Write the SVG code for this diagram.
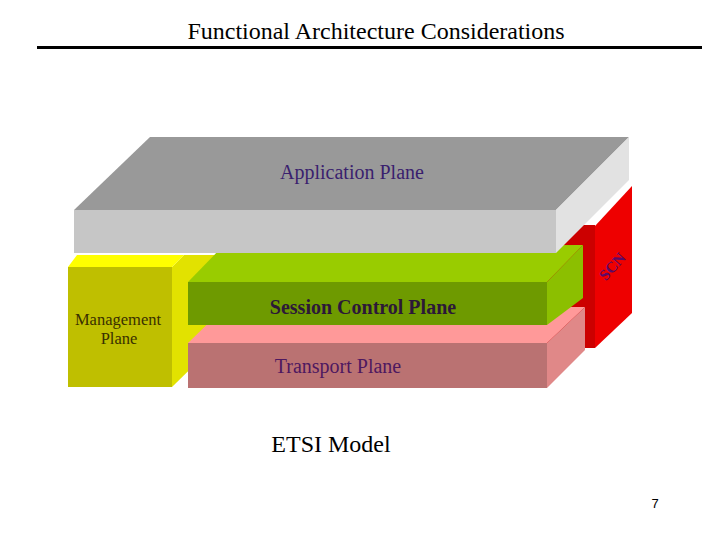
<svg xmlns="http://www.w3.org/2000/svg" width="720" height="540" viewBox="0 0 720 540">
<style>
.sf{font-family:'Liberation Serif','Times New Roman',Times,serif}
.lbl{font-size:20px;text-anchor:middle}
</style>
<rect width="720" height="540" fill="#ffffff"/>
<g id="title">
<text class="sf" x="376" y="39" font-size="24" text-anchor="middle" fill="#000">Functional Architecture Considerations</text>
<line x1="37" y1="47.5" x2="702" y2="47.5" stroke="#000" stroke-width="3"/>
</g>
<g id="scn">
<rect x="540" y="225" width="55" height="123" fill="#cc0000"/>
<polygon points="595,226 632,186 632,313 595,348" fill="#ee0000"/>
<text class="sf" transform="translate(616,270) rotate(-48)" font-size="15.5" font-weight="bold" text-anchor="middle" fill="#5a0a6a">SCN</text>
</g>
<g id="management">
<polygon points="172,267 184,255 225,255 225,335 172,387" fill="#e2e200"/>
<polygon points="68,267 172,267 184,255 77,255" fill="#ffff00"/>
<rect x="68" y="267" width="104" height="120" fill="#bfbf00"/>
<text class="sf" x="118" y="325" font-size="16.5" text-anchor="middle" fill="#3a3000">Management</text>
<text class="sf" x="119" y="344" font-size="16.5" text-anchor="middle" fill="#3a3000">Plane</text>
</g>
<g id="transport">
<polygon points="188,343 547,343 585,307 225,307" fill="#ff9999"/>
<rect x="188" y="343" width="359" height="45" fill="#ba7272"/>
<polygon points="547,343 585,307 585,350 547,388" fill="#e08888"/>
<text class="sf lbl" x="338" y="373" fill="#4e1860">Transport Plane</text>
</g>
<g id="session">
<polygon points="188,282 547,282 583,245 223,246" fill="#99cc00"/>
<rect x="188" y="282" width="359" height="43" fill="#6e9a00"/>
<polygon points="547,282 583,245 583,298 547,325" fill="#8cbf00"/>
<text class="sf lbl" x="363" y="314" font-weight="bold" fill="#2c1838">Session Control Plane</text>
</g>
<g id="application">
<polygon points="150,137 629,137 556,210 74,210" fill="#999999"/>
<rect x="74" y="210" width="482" height="43" fill="#c6c6c6"/>
<polygon points="556,210 629,137 629,180 556,253" fill="#e2e2e2"/>
<line x1="631" y1="181" x2="592" y2="221" stroke="#ffffff" stroke-width="2"/>
<text class="sf lbl" x="352" y="179" fill="#3a1f6e">Application Plane</text>
</g>
<g id="connectors"></g>
<text class="sf" x="331" y="452" font-size="24" text-anchor="middle" fill="#000">ETSI Model</text>
<text x="655" y="508" font-family="'Liberation Sans', Arial, sans-serif" font-size="13" text-anchor="middle" fill="#000">7</text>
</svg>
